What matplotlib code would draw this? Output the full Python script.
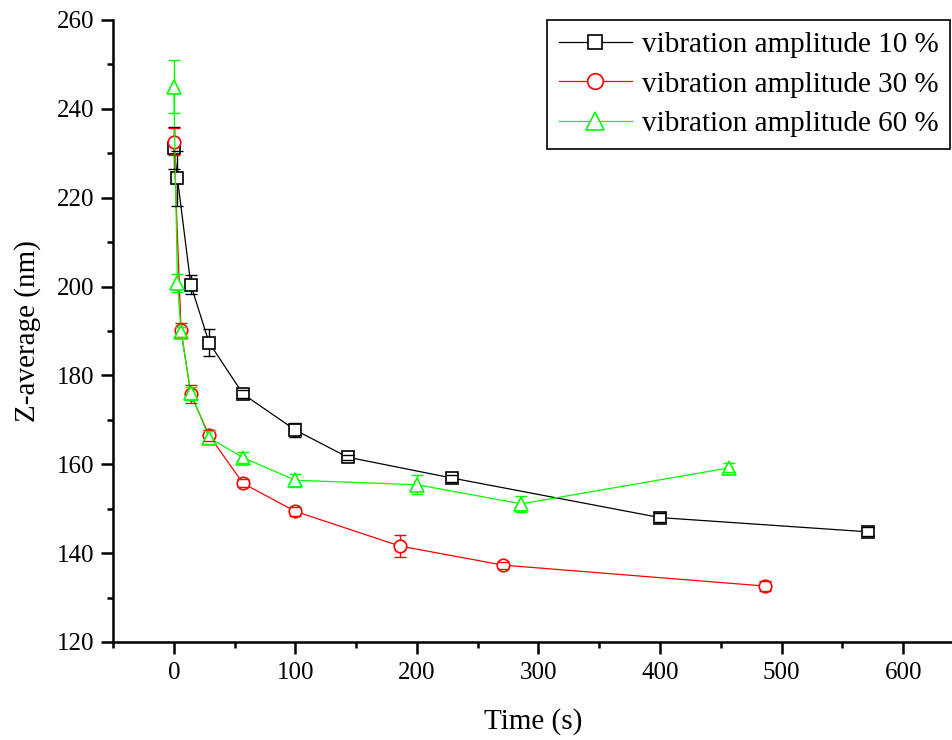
import matplotlib
matplotlib.use("Agg")
import matplotlib.pyplot as plt
from matplotlib.ticker import MultipleLocator

plt.rcParams['font.family'] = ['Liberation Serif', 'DejaVu Serif']
plt.rcParams['mathtext.fontset'] = 'stix'

# ---- data ----
t10 = [0, 3, 14, 29, 57, 100, 143, 229, 400, 571]
z10 = [231.2, 224.4, 200.4, 187.4, 175.8, 167.7, 161.6, 156.9, 148.0, 144.8]
e10 = [4.8, 6.2, 2.1, 3.1, 0.9, 1.5, 0.6, 0.8, 1.0, 1.0]

t30 = [0, 6, 14, 29, 57, 100, 186, 271, 486]
z30 = [232.6, 190.2, 175.8, 166.5, 155.7, 149.4, 141.6, 137.3, 132.6]
e30 = [3.0, 1.5, 2.0, 1.2, 0.9, 1.0, 2.4, 0.8, 1.2]

t60 = [0, 3, 6, 14, 29, 57, 100, 200, 286, 457]
z60 = [245.0, 200.8, 189.8, 176.0, 166.0, 161.5, 156.4, 155.4, 151.1, 159.2]
e60 = [6.0, 2.0, 1.2, 1.5, 1.5, 1.2, 1.5, 2.2, 1.8, 1.0]

labels = ['vibration amplitude 10 %', 'vibration amplitude 30 %', 'vibration amplitude 60 %']
colors = ['#000000', '#FF0000', '#00FF00']
markers = ['s', 'o', '^']
msizes = [8, 9, 10]

fig = plt.figure(figsize=(9.53, 7.40), dpi=100)
ax = fig.add_axes([113/953, 98/740, 840/953, 622/740])

series = [(t10, z10, e10), (t30, z30, e30), (t60, z60, e60)]
handles = []
for i, (t, z, e) in enumerate(series):
    h, = ax.plot(t, z, color=colors[i], lw=0.9, marker=markers[i], ms=msizes[i],
                 mfc='white', mec=colors[i], mew=1.2, zorder=4, label=labels[i])
    handles.append(h)
    eb = ax.errorbar(t, z, yerr=e, fmt='none', ecolor=colors[i], elinewidth=1.0,
                     capsize=4.5, capthick=1.0, zorder=3)
    for cl in eb[1]:
        cl.set_zorder(5)

ax.set_xlim(-50, 641)
ax.set_ylim(120, 260)
ax.xaxis.set_major_locator(MultipleLocator(100))
ax.xaxis.set_minor_locator(MultipleLocator(50))
ax.yaxis.set_major_locator(MultipleLocator(20))
ax.yaxis.set_minor_locator(MultipleLocator(10))

for s in ['top', 'right']:
    ax.spines[s].set_visible(False)
for s in ['left', 'bottom']:
    ax.spines[s].set_linewidth(1.8)

ax.tick_params(axis='both', which='major', direction='out', length=8.5, width=1.8,
               labelsize=18)
ax.tick_params(axis='x', which='major', pad=6)
ax.tick_params(axis='y', which='major', pad=5)
ax.tick_params(axis='both', which='minor', direction='out', length=4.5, width=1.8)

ax.set_xlabel('Time (s)', fontsize=21, labelpad=17)
ax.set_ylabel('Z-average (nm)', fontsize=21, labelpad=11)

leg = ax.legend(handles=handles, loc='upper right', bbox_to_anchor=(0.997, 1.0),
                fontsize=21, frameon=True, fancybox=False, framealpha=1,
                edgecolor='black', handlelength=2.5, handletextpad=0.35,
                labelspacing=0.45, borderpad=0.4, borderaxespad=0, markerscale=1.25)
leg.get_frame().set_linewidth(1.2)

fig.savefig('out.png', dpi=100)
